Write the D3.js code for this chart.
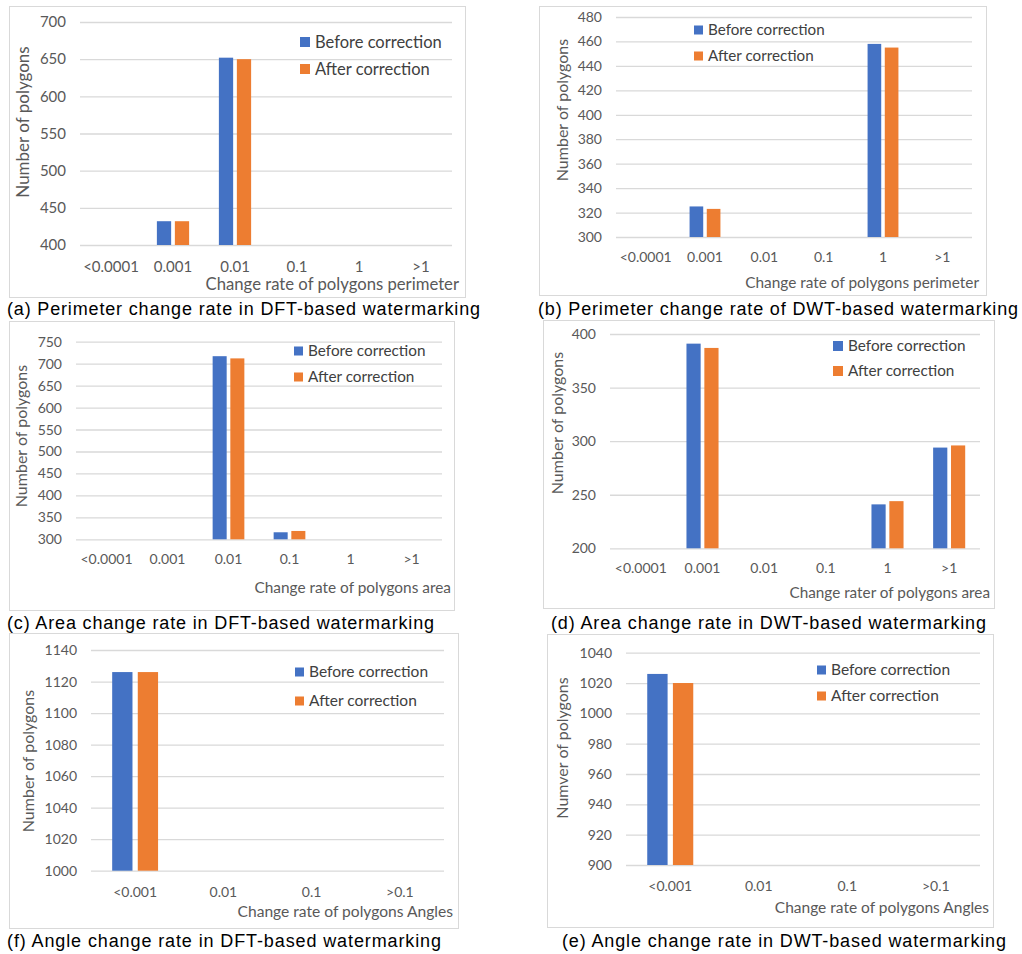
<!DOCTYPE html>
<html>
<head>
<meta charset="utf-8">
<script src="https://cdn.jsdelivr.net/npm/d3@7"></script>
<style>
  body { margin: 0; background: #fff; }
  svg { display: block; }
</style>
</head>
<body>
<div id="chart"></div>
<script>
// categories
const catsSix = ["<0.0001", "0.001", "0.01", "0.1", "1", ">1"];
const catsFour = ["<0.001", "0.01", "0.1", ">0.1"];
const seriesNames = ["Before correction", "After correction"];

// values (null = nothing above the axis floor)
const aBefore = [null, 432, 652, null, null, null];
const aAfter  = [null, 432, 650, null, null, null];
const bBefore = [null, 325, null, null, 458, null];
const bAfter  = [null, 323, null, null, 455, null];
const cBefore = [null, null, 717, 316, null, null];
const cAfter  = [null, null, 712, 319, null, null];
const dBefore = [null, 391, null, null, 241, 294];
const dAfter  = [null, 387, null, null, 244, 296];
const fBefore = [1126, null, null, null];
const fAfter  = [1126, null, null, null];
const eBefore = [1026, null, null, null];
const eAfter  = [1020, null, null, null];

// y axis ranges [min, max, step]
const aY = [400, 700, 50];
const bY = [300, 480, 20];
const cY = [300, 750, 50];
const dY = [200, 400, 50];
const fY = [1000, 1140, 20];
const eY = [900, 1040, 20];

const colors = ["#4472C4", "#ED7D31"];

const panels = [
  { cats: catsSix, vals: [aBefore, aAfter], y: aY,
    xTitle: "Change rate of polygons perimeter", yTitle: "Number of polygons",
    caption: "(a) Perimeter change rate in DFT-based watermarking",
    frame: [9, 6, 465, 297], plot: [80, 452, 22, 245], tickY: 267, tickFs: 15,
    xTitleY: 284, xTitleR: 459, xTitleFs: 16.7, yTitleX: 23, yTitleY: 122, yTitleFs: 17,
    leg: [300, 42, 69, 10], legFs: 16.5, cap: [7, 309, 473] },
  { cats: catsSix, vals: [bBefore, bAfter], y: bY,
    xTitle: "Change rate of polygons perimeter", yTitle: "Number of polygons",
    caption: "(b) Perimeter change rate of DWT-based watermarking",
    frame: [539, 6, 986, 295], plot: [616, 972, 17, 237], tickY: 257, tickFs: 14,
    xTitleY: 283, xTitleR: 979, xTitleFs: 15.4, yTitleX: 562, yTitleY: 110, yTitleFs: 16,
    leg: [694, 30, 56, 9], legFs: 15.2, cap: [538, 309, 480] },
  { cats: catsSix, vals: [cBefore, cAfter], y: cY,
    xTitle: "Change rate of polygons area", yTitle: "Number of polygons",
    caption: "(c) Area change rate in DFT-based watermarking",
    frame: [9, 321, 454, 610], plot: [76, 442, 341.7, 539.3], tickY: 559, tickFs: 14,
    xTitleY: 588, xTitleR: 451, xTitleFs: 15.4, yTitleX: 21, yTitleY: 436, yTitleFs: 16,
    leg: [294, 351, 377, 9], legFs: 15.3, cap: [7, 623, 427] },
  { cats: catsSix, vals: [dBefore, dAfter], y: dY,
    xTitle: "Change rater of polygons area", yTitle: "Number of polygons",
    caption: "(d) Area change rate in DWT-based watermarking",
    frame: [543, 320, 994, 608], plot: [610, 980, 334, 548.3], tickY: 568, tickFs: 14,
    xTitleY: 593, xTitleR: 990, xTitleFs: 15.3, yTitleX: 557, yTitleY: 423, yTitleFs: 16,
    leg: [833, 346, 371, 10], legFs: 15.3, cap: [551, 623, 435] },
  { cats: catsFour, vals: [fBefore, fAfter], y: fY,
    xTitle: "Change rate of polygons Angles", yTitle: "Number of polygons",
    caption: "(f) Angle change rate in DFT-based watermarking",
    frame: [9, 633, 458, 928], plot: [91, 444, 650, 870.7], tickY: 892, tickFs: 14,
    xTitleY: 912, xTitleR: 453, xTitleFs: 15.6, yTitleX: 28, yTitleY: 761, yTitleFs: 16,
    leg: [295, 672, 701, 9], legFs: 15.5, cap: [7, 941, 434] },
  { cats: catsFour, vals: [eBefore, eAfter], y: eY,
    xTitle: "Change rate of polygons Angles", yTitle: "Numver of polygons",
    caption: "(e) Angle change rate in DWT-based watermarking",
    frame: [547, 634, 993, 927], plot: [626, 980, 652.7, 865], tickY: 886, tickFs: 14,
    xTitleY: 908, xTitleR: 989, xTitleFs: 15.5, yTitleX: 562, yTitleY: 748, yTitleFs: 16,
    leg: [817, 670, 696, 9], legFs: 15.5, cap: [562, 941, 444] }
];

const svg = d3.select("#chart").append("svg")
  .attr("width", 1022).attr("height", 954)
  .style("font-family", "Lato, 'Open Sans', sans-serif");

panels.forEach(p => {
  const g = svg.append("g");
  const [fx0, fy0, fx1, fy1] = p.frame;
  const [px0, px1, pyTop, pyBot] = p.plot;

  // chart frame
  g.append("rect")
    .attr("x", fx0 + 0.5).attr("y", fy0 + 0.5)
    .attr("width", fx1 - fx0).attr("height", fy1 - fy0)
    .attr("fill", "#fff").attr("stroke", "#d9d9d9");

  const x = d3.scaleBand().domain(p.cats).range([px0, px1]).padding(0);
  const y = d3.scaleLinear().domain([p.y[0], p.y[1]]).range([pyBot, pyTop]);
  const ticks = d3.range(p.y[0], p.y[1] + p.y[2] / 2, p.y[2]);

  // gridlines + y labels
  const yAxis = g.append("g")
    .attr("transform", `translate(${px0},0)`)
    .call(d3.axisLeft(y).tickValues(ticks).tickFormat(d3.format("d"))
      .tickSize(-(px1 - px0)).tickPadding(14));
  yAxis.select(".domain").remove();
  yAxis.selectAll("line").attr("stroke", "#d9d9d9").attr("stroke-width", 1.3);
  yAxis.selectAll("text")
    .attr("fill", "#595959").attr("font-size", p.tickFs)
    .attr("font-family", "Lato, sans-serif");

  // x labels
  const xAxis = g.append("g")
    .attr("transform", `translate(0,${pyBot})`)
    .call(d3.axisBottom(x).tickSize(0).tickPadding(0));
  xAxis.select(".domain").remove();
  xAxis.selectAll("text")
    .attr("y", p.tickY - pyBot).attr("dy", "0.35em")
    .attr("fill", "#595959").attr("font-size", p.tickFs)
    .attr("font-family", "Lato, sans-serif");

  // bars
  const bw = x.bandwidth();
  const barW = bw * 0.23, gap = bw * 0.06;
  p.vals.forEach((vals, si) => {
    const off = bw / 2 - barW - gap / 2 + si * (barW + gap);
    g.append("g").selectAll("rect")
      .data(p.cats.map((c, i) => ({ c, v: vals[i] })).filter(d => d.v != null))
      .join("rect")
        .attr("x", d => x(d.c) + off)
        .attr("y", d => y(d.v))
        .attr("width", barW)
        .attr("height", d => y(p.y[0]) - y(d.v))
        .attr("fill", colors[si]);
  });

  // legend
  const [lx, ly0, ly1, ls] = p.leg;
  [ly0, ly1].forEach((ly, si) => {
    g.append("rect")
      .attr("x", lx).attr("y", ly - ls / 2)
      .attr("width", ls).attr("height", ls)
      .attr("fill", colors[si]);
    g.append("text")
      .attr("x", lx + ls + 5).attr("y", ly).attr("dy", "0.35em")
      .attr("font-size", p.legFs).attr("fill", "#404040")
      .text(seriesNames[si]);
  });

  // axis titles
  g.append("text")
    .attr("x", p.xTitleR).attr("y", p.xTitleY).attr("dy", "0.35em")
    .attr("text-anchor", "end")
    .attr("font-size", p.xTitleFs).attr("fill", "#595959")
    .text(p.xTitle);
  g.append("text")
    .attr("transform", `translate(${p.yTitleX},${p.yTitleY}) rotate(-90)`)
    .attr("dy", "0.35em")
    .attr("text-anchor", "middle")
    .attr("font-size", p.yTitleFs).attr("fill", "#595959")
    .text(p.yTitle);

  // caption
  const [cx, cy, cw] = p.cap;
  svg.append("text")
    .attr("x", cx).attr("y", cy).attr("dy", "0.35em")
    .attr("font-family", "'Liberation Sans', Arial, sans-serif")
    .attr("font-size", 18).attr("fill", "#000")
    .attr("textLength", cw).attr("lengthAdjust", "spacing")
    .text(p.caption);
});
</script>
</body>
</html>
